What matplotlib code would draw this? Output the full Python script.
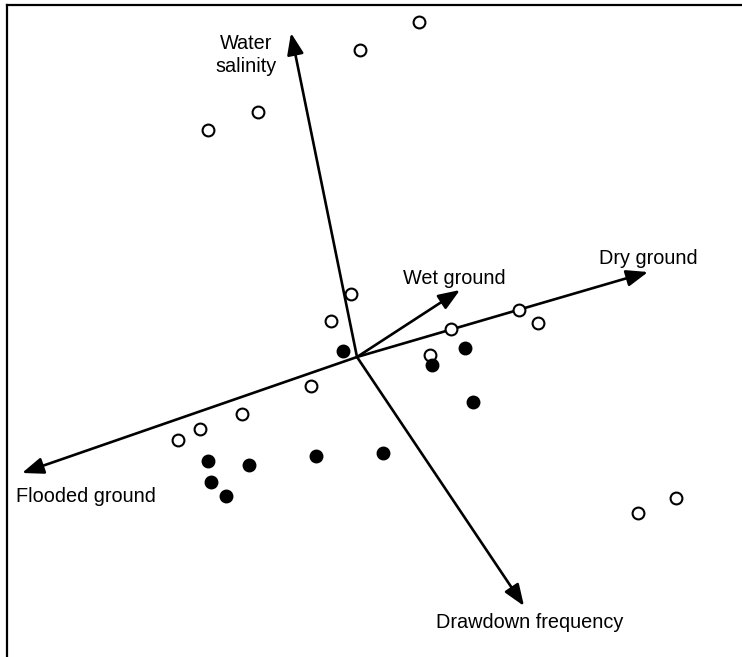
import matplotlib.pyplot as plt
import numpy as np

plt.rcParams['font.family'] = ['Liberation Sans', 'DejaVu Sans']

# ordination scores (centred on the origin of the environmental vectors)
open_x = [62, 3, -99, -149, -6, -26, 94, 162, 181, 73, -46, -115, -157, -179, 281, 319]
open_y = [335, 307, 245, 227, 63, 36, 28, 47, 34, 2, -29, -57, -72, -83, -156, -141]

filled_x = [-14, 108, 75, 116, 26, -41, -108, -149, -146, -131]
filled_y = [6, 9, -8, -45, -96, -99, -108, -104, -125, -139]

# environmental vectors
vec_names = ["Water\nsalinity", "Wet ground", "Dry ground", "Flooded ground", "Drawdown frequency"]
vec_x = [-66, 103, 291, -335, 167]
vec_y = [324, 67, 85, -116, -249]

# label anchor (left/centre) for each vector
lab_x = [-111, 46, 242, -341, 79]
lab_y = [302, 79, 99, -140, -265]
lab_ha = ["center", "left", "left", "left", "left"]

fig = plt.figure(figsize=(7.42, 6.57), dpi=100)
ax = fig.add_axes([7 / 742, 0, 735 / 742, 652 / 657])
ax.set_xlim(-350, 385)
ax.set_ylim(-300, 352)

for sp in ["right", "bottom"]:
    ax.spines[sp].set_visible(False)
for sp in ["left", "top"]:
    ax.spines[sp].set_linewidth(1.6)
ax.set_xticks([])
ax.set_yticks([])

for i in range(len(vec_names)):
    ax.annotate("", xy=(vec_x[i], vec_y[i]), xytext=(0, 0),
                arrowprops=dict(arrowstyle="-|>,head_length=1.3,head_width=0.5",
                                color="black", lw=1.9, shrinkA=0, shrinkB=0))
    ax.text(lab_x[i], lab_y[i], vec_names[i], ha=lab_ha[i], va="center",
            fontsize=14.3, linespacing=1.25)

ax.plot(open_x, open_y, "o", ms=8.5, mfc="white", mec="black", mew=1.5, zorder=3)
ax.plot(filled_x, filled_y, "o", ms=8.5, mfc="black", mec="black", mew=1.5, zorder=3)

fig.savefig("out.png", dpi=100)
